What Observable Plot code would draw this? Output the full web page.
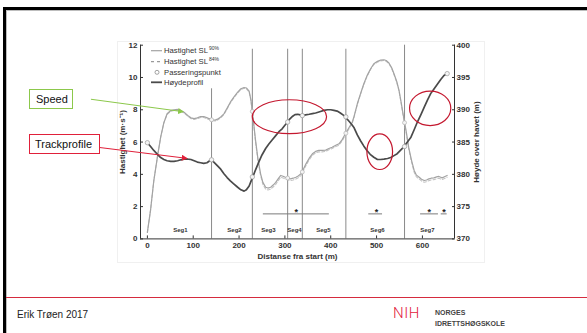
<!DOCTYPE html>
<html><head><meta charset="utf-8">
<script src="https://cdn.jsdelivr.net/npm/d3@7"></script>
<script src="https://cdn.jsdelivr.net/npm/@observablehq/plot@0.6"></script>
<style>
body{margin:0;background:#fff;}
#page{position:relative;width:587px;height:333px;overflow:hidden;background:#fff;font-family:"Liberation Sans",Arial,sans-serif;}
#page svg{position:absolute;left:0;top:0;overflow:visible;}
.abs{position:absolute;}
</style></head><body><div id="page">
<div class="abs" style="left:3px;top:7px;width:584px;height:3px;background:#000"></div>
<div class="abs" style="left:3px;top:7px;width:3px;height:326px;background:#000"></div>
<div class="abs" style="left:6px;top:10px;width:581px;height:1px;background:#bdbdbd"></div>
<div class="abs" style="left:6px;top:10px;width:1px;height:323px;background:#bdbdbd"></div>
<div class="abs" style="left:117px;top:41px;width:368px;height:222px;border:1px solid #f0f0f0;box-sizing:border-box"></div>
</div>
<script>
// ---- data ----
const speedDist = [0,7,14,22,29,36,43,51,58,66,73,80,88,95,102,109,116,123,132,142,148,153,160,167,174,181,189,197,204,211,216,222,226,231,236,241,247,252,258,263,269,275,280,286,291,296,301,307,312,318,324,329,335,340,346,353,360,367,374,381,389,396,403,411,418,425,432,440,447,451,458,465,472,479,487,494,502,509,516,521,527,533,538,544,549,554,559,565,570,576,582,587,593,598,604,609,614,619,625,631,636,640,643,648,654];
const speed90 = [0.4,1.8,3.6,5.1,6.3,7.2,7.75,7.95,8.0,8.02,7.95,7.85,7.65,7.5,7.45,7.5,7.58,7.58,7.48,7.38,7.36,7.42,7.55,7.75,8.1,8.47,8.8,9.09,9.3,9.38,9.35,9.15,8.6,7.4,6.1,5.0,4.03,3.5,3.2,3.15,3.2,3.35,3.5,3.75,3.93,3.88,3.82,3.76,3.72,3.76,3.82,3.9,4.03,4.3,4.65,5.0,5.27,5.42,5.48,5.48,5.5,5.6,5.68,5.8,5.89,6.15,6.51,6.9,7.23,7.6,8.37,9.0,9.6,10.1,10.54,10.85,11.0,11.08,11.1,11.05,10.9,10.6,10.23,9.75,9.2,8.4,7.54,6.6,5.68,4.9,4.24,3.95,3.82,3.7,3.62,3.65,3.72,3.76,3.78,3.84,3.87,3.82,3.78,3.85,3.93];
const speed84 = [0.4,1.8,3.6,5.1,6.3,7.2,7.7,7.9,7.95,7.97,7.9,7.8,7.6,7.45,7.4,7.45,7.52,7.52,7.42,7.32,7.3,7.36,7.5,7.7,8.05,8.42,8.75,9.04,9.25,9.33,9.3,9.1,8.55,7.3,6.0,4.9,3.92,3.38,3.08,3.03,3.08,3.23,3.38,3.63,3.82,3.77,3.71,3.65,3.61,3.65,3.71,3.79,3.92,4.2,4.55,4.9,5.18,5.33,5.39,5.39,5.42,5.52,5.6,5.72,5.81,6.07,6.43,6.83,7.17,7.55,8.32,8.95,9.55,10.05,10.5,10.8,10.95,11.03,11.05,11.0,10.85,10.55,10.18,9.7,9.15,8.33,7.45,6.5,5.57,4.79,4.13,3.84,3.71,3.59,3.51,3.54,3.61,3.65,3.67,3.73,3.76,3.71,3.67,3.74,3.82];
const heightDist = [0,7,14,22,29,36,43,51,58,66,73,80,84,89,95,102,109,116,123,130,136,140,145,152,160,167,174,181,189,197,204,211,216,222,226,230,236,243,250,258,265,273,280,287,294,300,306,311,317,322,328,333,338,345,353,360,367,376,385,393,400,407,414,421,429,434,439,445,451,458,465,472,479,486,494,502,509,516,524,531,538,545,552,559,566,575,582,589,597,604,611,618,626,633,640,647,654];
const heightM = [384.9,384.3,383.7,383.1,382.6,382.3,382.1,382.0,382.0,382.1,382.25,382.35,382.4,382.35,382.3,382.1,381.9,381.8,381.7,381.8,382.1,382.25,381.9,381.4,380.8,380.1,379.5,379.0,378.5,378.0,377.6,377.4,377.6,378.2,378.9,379.6,380.7,381.9,383.0,384.0,384.7,385.4,386.0,386.6,387.05,387.6,388.1,388.6,389.0,389.25,389.3,389.2,389.1,389.2,389.3,389.4,389.5,389.7,389.9,390.0,390.0,389.9,389.8,389.5,389.1,388.7,388.3,387.8,387.2,386.1,385.2,384.4,383.7,383.1,382.65,382.3,382.3,382.35,382.45,382.6,382.9,383.2,383.7,384.2,384.9,385.75,386.9,388.1,389.3,390.4,391.5,392.5,393.3,394.0,394.7,395.3,395.6];
const passDist = [0,140,229,306,338,433,561,654];
const passSpeed = [null,7.38,7.9,3.77,4.15,6.55,7.2,null];
const passHeight = [384.9,382.25,379.6,388.1,389.1,388.9,384.3,395.6];
const segBoundaries = [140,229,306,338,433,561];
const segBoundaryTop = [9.3,11.75,11.75,11.75,11.75,12];
const segLabels = ["Seg1","Seg2","Seg3","Seg4","Seg5","Seg6","Seg7"];
const segLabelDist = [72,190,264,321,384,502,611];
const sigStart = [253,483,596,641];
const sigEnd = [397,513,635,654];
const sigStar = [325,500,615,647];
const speedTicks = [0,2,4,6,8,10,12];
const heightTicks = [370,375,380,385,390,395,400];
const distTicks = [0,100,200,300,400,500,600];
// annotations (data coordinates)
const ellipseDist = [311,508,618];
const ellipseSpeed = [7.54,5.37,8.06];
const ellipseRDist = [81,28,45];
const ellipseRSpeed = [1.05,1.1,1.07];
const arrowFrom = [[-122,8.62],[-117,5.68]];
const arrowTo = [[79,7.85],[87,4.96]];
const arrowColor = ["#8cc84b","#e0203a"];

// ---- build ----
const hToY = h => (h - 370) / 30 * 12;
const speedRows = speedDist.map((d,i)=>({d, s90:speed90[i], s84:speed84[i]}));
const heightRows = heightDist.map((d,i)=>({d, h:hToY(heightM[i])}));
const passRowsH = passDist.map((d,i)=>({d, y:hToY(passHeight[i])}));
const passRowsS = passDist.map((d,i)=>({d, y:passSpeed[i]})).filter(r=>r.y!=null);
const segRows = segBoundaries.map((d,i)=>({d, top:segBoundaryTop[i]}));
const labelRows = segLabels.map((t,i)=>({t, d:segLabelDist[i]}));
const sigRows = sigStart.map((a,i)=>({a, b:sigEnd[i], s:sigStar[i]}));

const font = "Liberation Sans, Arial, sans-serif";
const plot = Plot.plot({
  width:587, height:333,
  marginLeft:140, marginRight:133, marginTop:44.7, marginBottom:333-238.4,
  x:{domain:[-15,670]},
  y:{domain:[0,12]},
  style:{fontFamily:font, fontSize:"8px", fontWeight:"bold", color:"#333", background:"transparent", overflow:"visible"},
  marks:[
    Plot.ruleX(segRows, {x:"d", y1:0, y2:"top", stroke:"#8a8a8a", strokeWidth:1}),
    Plot.ruleY(sigRows, {y:1.55, x1:"a", x2:"b", stroke:"#7a7a7a", strokeWidth:1}),
    Plot.text(sigRows, {x:"s", y:1.55, text:()=>"*", dy:-2, fontSize:9, fill:"#222"}),
    Plot.text(labelRows, {x:"d", y:0.52, text:"t", fontSize:6, fontWeight:"bold", fill:"#333"}),
    Plot.line(speedRows, {x:"d", y:"s84", stroke:"#c4c4c4", strokeWidth:1.1, strokeDasharray:"3,2"}),
    Plot.line(speedRows, {x:"d", y:"s90", stroke:"#a3a3a3", strokeWidth:1.2}),
    Plot.line(heightRows, {x:"d", y:"h", stroke:"#4a4a4a", strokeWidth:1.7}),
    Plot.dot(passRowsS, {x:"d", y:"y", r:2, stroke:"#b0b0b0", fill:"#f4f4f4", strokeWidth:0.7}),
    Plot.dot(passRowsH, {x:"d", y:"y", r:2.2, stroke:"#999", fill:"#f4f4f4", strokeWidth:0.7}),
    Plot.ruleX([-15], {stroke:"#333", strokeWidth:1}),
    Plot.ruleX([670], {stroke:"#333", strokeWidth:1}),
    Plot.ruleY([0], {stroke:"#333", strokeWidth:1}),
    Plot.axisY(speedTicks, {anchor:"left", tickSize:-3, tickPadding:6, label:"Hastighet (m·s⁻¹)", labelAnchor:"center", labelArrow:"none", labelOffset:21, fontWeight:"bold"}),
    Plot.axisY(heightTicks.map(hToY), {anchor:"right", tickSize:-3, tickPadding:5, tickFormat:d=>Math.round(370 + d*2.5), label:"Høyde over havet (m)", labelAnchor:"center", labelArrow:"none", labelOffset:24, fontWeight:"bold"}),
    Plot.axisX(distTicks, {anchor:"bottom", tickSize:-3, tickPadding:6, label:"Distanse fra start (m)", labelAnchor:"center", labelArrow:"none", labelOffset:20, fontWeight:"bold"})
  ]
});
document.getElementById("page").appendChild(plot);

const X = plot.scale("x"), Y = plot.scale("y");
const svg = d3.select(plot);
const defs = svg.append("defs");
arrowColor.forEach((c,i)=>{
  defs.append("marker").attr("id","ah"+i).attr("viewBox","0 0 6 6").attr("refX",5).attr("refY",3)
    .attr("markerWidth",6).attr("markerHeight",6).attr("markerUnits","userSpaceOnUse").attr("orient","auto")
    .append("path").attr("d","M0,0L6,3L0,6z").attr("fill",c);
});
const ann = svg.append("g");
arrowFrom.forEach((f,i)=>{
  ann.append("line").attr("x1",X.apply(f[0])).attr("y1",Y.apply(f[1]))
    .attr("x2",X.apply(arrowTo[i][0])).attr("y2",Y.apply(arrowTo[i][1]))
    .attr("stroke",arrowColor[i]).attr("stroke-width",1).attr("marker-end",`url(#ah${i})`);
});
ellipseDist.forEach((d,i)=>{
  const cx = X.apply(d), cy = Y.apply(ellipseSpeed[i]);
  ann.append("ellipse").attr("cx",cx).attr("cy",cy)
    .attr("rx",Math.abs(X.apply(d+ellipseRDist[i])-cx)).attr("ry",Math.abs(Y.apply(ellipseSpeed[i]-ellipseRSpeed[i])-cy))
    .attr("fill","none").attr("stroke","#c4182f").attr("stroke-width",1.2);
});

// legend
const leg = svg.append("g").attr("font-family",font).attr("font-size",7.7).attr("font-weight","normal")
  .attr("text-anchor","start").attr("fill","#333");
const legY = [50.7,61.7,72.3,82.3];
const lx0 = 151, lx1 = 162, tx = 164;
leg.append("line").attr("x1",lx0).attr("x2",lx1).attr("y1",legY[0]).attr("y2",legY[0]).attr("stroke","#a3a3a3").attr("stroke-width",1.2);
leg.append("line").attr("x1",lx0).attr("x2",lx1).attr("y1",legY[1]).attr("y2",legY[1]).attr("stroke","#9a9a9a").attr("stroke-width",1.2).attr("stroke-dasharray","3,3");
leg.append("circle").attr("cx",157).attr("cy",legY[2]).attr("r",2).attr("fill","#fff").attr("stroke","#8a8a8a").attr("stroke-width",0.8);
leg.append("line").attr("x1",lx0).attr("x2",lx1).attr("y1",legY[3]).attr("y2",legY[3]).attr("stroke","#4a4a4a").attr("stroke-width",1.8);
const legText = [["Hastighet SL","90%"],["Hastighet SL","84%"],["Passeringspunkt",""],["Høydeprofil",""]];
legText.forEach((t,i)=>{
  const tt = leg.append("text").attr("x",tx).attr("y",legY[i]).attr("dy","0.35em");
  tt.append("tspan").text(t[0]);
  if (t[1]) tt.append("tspan").attr("font-size",5).attr("dy","-3.2").attr("dx","1").text(t[1]);
});

// footer and boxes
const page = document.getElementById("page");
page.insertAdjacentHTML("beforeend", `
<div class="abs" style="left:29px;top:89px;width:44px;height:20px;border:1px solid #8cc84b;box-sizing:border-box;background:#fff"></div>
<div class="abs" style="left:36px;top:93px;font-size:11px;line-height:12px;color:#111">Speed</div>
<div class="abs" style="left:29px;top:134px;width:71px;height:20px;border:1px solid #e0203a;box-sizing:border-box;background:#fff"></div>
<div class="abs" style="left:35px;top:138px;font-size:11px;line-height:12px;color:#111">Trackprofile</div>
<div class="abs" style="left:6px;top:297px;width:581px;height:1px;background:#d52b3e"></div>
<div class="abs" style="left:17px;top:309px;font-size:10px;line-height:12px;color:#222">Erik Trøen 2017</div>
<div class="abs" style="left:393px;top:305px;font-family:Roboto,'Liberation Sans',sans-serif;font-weight:300;font-size:15px;line-height:16px;color:#e2183c;letter-spacing:0.5px">NIH</div>
<div class="abs" style="left:435px;top:309px;font-size:7px;line-height:8px;font-weight:bold;color:#444">NORGES</div>
<div class="abs" style="left:435px;top:320px;font-size:7px;line-height:8px;font-weight:bold;color:#444">IDRETTSHØGSKOLE</div>
`);
</script>
</body></html>
